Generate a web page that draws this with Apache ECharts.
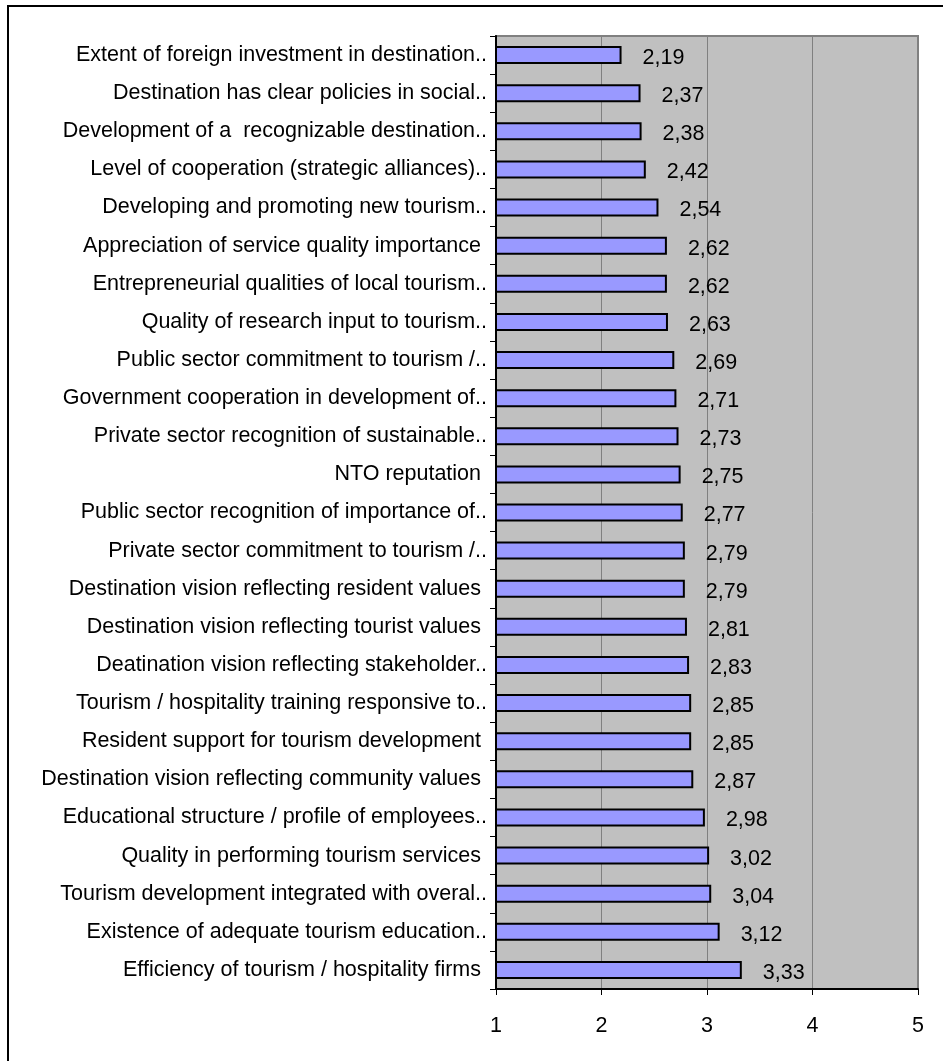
<!DOCTYPE html>
<html>
<head>
<meta charset="utf-8">
<script src="https://cdn.jsdelivr.net/npm/echarts@6/dist/echarts.min.js"></script>
<style>
  html, body { margin: 0; padding: 0; background: #fff; }
  #frame { position: absolute; left: 7px; top: 5px; width: 950px; height: 1070px;
           border-left: 2px solid #000; border-top: 2px solid #000; }
  #chart { position: absolute; left: 0; top: 0; width: 943px; height: 1061px; }
</style>
</head>
<body>
<div id="frame"></div>
<div id="chart"></div>
<script>
  // categories, top to bottom
  const categories = [
    "Extent of foreign investment in destination..",
    "Destination has clear policies in social..",
    "Development of a  recognizable destination..",
    "Level of cooperation (strategic alliances)..",
    "Developing and promoting new tourism..",
    "Appreciation of service quality importance ",
    "Entrepreneurial qualities of local tourism..",
    "Quality of research input to tourism..",
    "Public sector commitment to tourism /..",
    "Government cooperation in development of..",
    "Private sector recognition of sustainable..",
    "NTO reputation ",
    "Public sector recognition of importance of..",
    "Private sector commitment to tourism /..",
    "Destination vision reflecting resident values ",
    "Destination vision reflecting tourist values ",
    "Deatination vision reflecting stakeholder..",
    "Tourism / hospitality training responsive to..",
    "Resident support for tourism development ",
    "Destination vision reflecting community values ",
    "Educational structure / profile of employees..",
    "Quality in performing tourism services ",
    "Tourism development integrated with overal..",
    "Existence of adequate tourism education..",
    "Efficiency of tourism / hospitality firms "
  ];
  const scores = [
    2.19, 2.37, 2.38, 2.42, 2.54, 2.62, 2.62, 2.63, 2.69, 2.71, 2.73, 2.75, 2.77,
    2.79, 2.79, 2.81, 2.83, 2.85, 2.85, 2.87, 2.98, 3.02, 3.04, 3.12, 3.33
  ];
  const axisMin = 1, axisMax = 5, axisStep = 1;

  const font = "'Liberation Sans', Arial, sans-serif";
  const chart = echarts.init(document.getElementById("chart"));
  chart.setOption({
    animation: false,
    grid: {
      left: 496, top: 36, width: 422, height: 953,
      show: true,
      backgroundColor: "#C0C0C0",
      borderColor: "#808080",
      borderWidth: 2
    },
    xAxis: {
      type: "value",
      min: axisMin, max: axisMax, interval: axisStep,
      axisLine: { show: true, lineStyle: { color: "#000", width: 2 } },
      axisTick: { show: true, length: 6, lineStyle: { color: "#000" } },
      axisLabel: { margin: 26, color: "#000", fontSize: 21.5, fontFamily: font },
      splitLine: { show: true, lineStyle: { color: "#808080", width: 1 } }
    },
    yAxis: {
      type: "category",
      inverse: true,
      data: categories,
      axisLine: { show: true, lineStyle: { color: "#000", width: 2 } },
      axisTick: { show: true, length: 6, lineStyle: { color: "#000" } },
      axisLabel: { margin: 9, color: "#000", fontSize: 21.5, fontFamily: font },
      splitLine: { show: false }
    },
    series: [{
      type: "bar",
      data: scores,
      barWidth: 18,
      itemStyle: { color: "#9999FF", borderColor: "#000", borderWidth: 2 },
      label: {
        show: true,
        position: "right",
        distance: 21,
        offset: [0, 3],
        color: "#000",
        fontSize: 21.5,
        fontFamily: font,
        formatter: p => p.value.toFixed(2).replace(".", ",")
      }
    }]
  });
</script>
</body>
</html>
